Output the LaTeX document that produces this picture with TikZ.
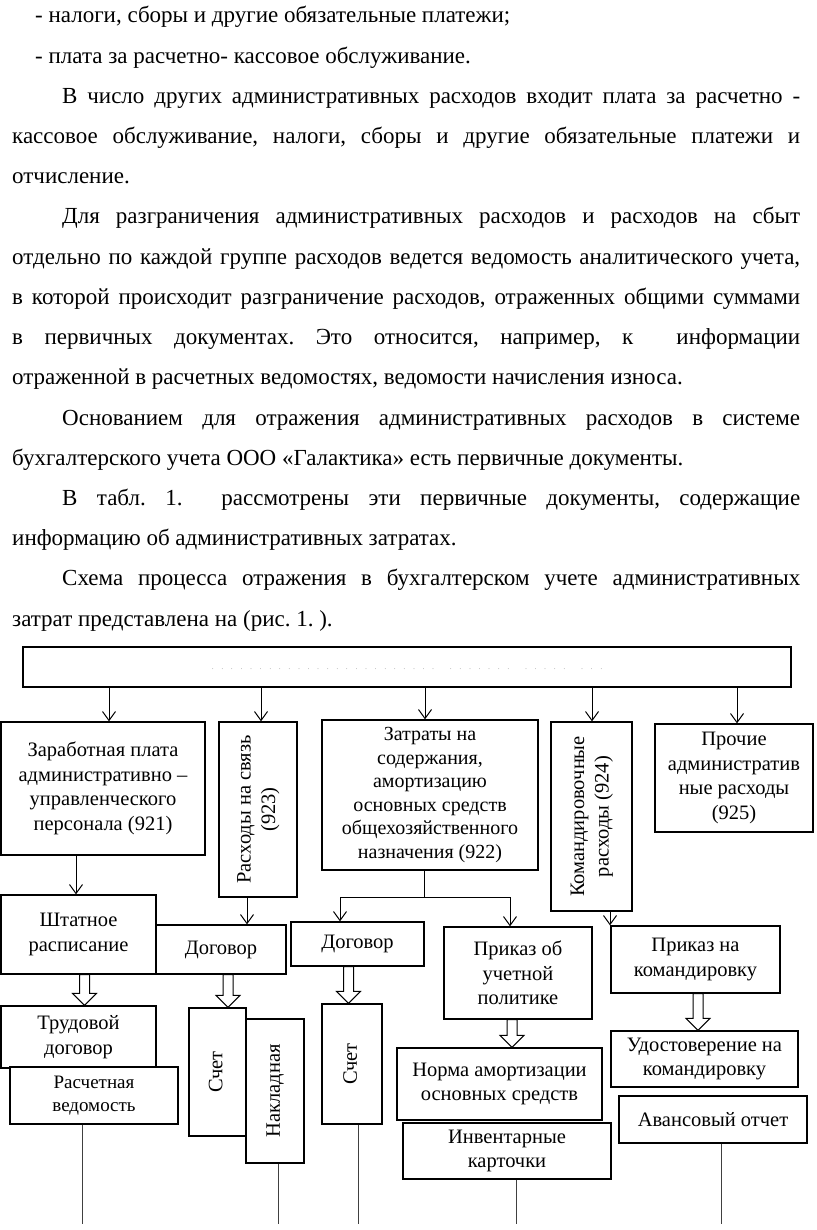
\documentclass[tikz,border=0pt]{standalone}
\usepackage{fontspec}
\setmainfont{Liberation Serif}
\usepackage{graphicx}
\usepackage{tikz}
\usetikzlibrary{arrows.meta,calc}
\frenchspacing

\newcommand{\fatarrow}[3]{%
  \draw[fat] let \p1=(#1), \p2=(#2) in
    (\x1+#3-5pt,\y1) -- (\x1+#3+5pt,\y1) -- (\x1+#3+5pt,\y2+12pt)
    -- (\x1+#3+12pt,\y2+12pt) -- (\x1+#3,\y2) -- (\x1+#3-12pt,\y2+12pt)
    -- (\x1+#3-5pt,\y2+12pt) -- cycle;}
\newcommand{\vtext}[1]{\rotatebox{90}{\begin{tabular}{@{}c@{}}#1\end{tabular}}}

\tikzset{
  box/.style={draw, line width=1.3pt, fill=white, inner sep=0pt, align=center,
    font=\fontsize{20.5}{24.5}\selectfont},
  txt/.style={anchor=base west, inner sep=0pt, font=\fontsize{23}{28}\selectfont},
  arr/.style={-{Straight Barb[length=9pt,width=13pt]}, line width=1pt},
  fat/.style={draw, line width=1pt, fill=white},
  thinline/.style={line width=0.5pt, black!75}
}

\begin{document}
\begin{tikzpicture}[x=1pt, y=-1pt]
  \useasboundingbox (0,0) rectangle (816,1230);

  \node[txt] (t1) at (35,23) {- налоги, сборы и другие обязательные платежи;};
  \node[txt] (t2) at (35,63.2) {- плата за расчетно- кассовое обслуживание.};
  \node[txt] (t3) at (62,103.4) {\makebox[738pt][s]{В число других административных расходов входит плата за расчетно -}};
  \node[txt] (t4) at (12,143.6) {\makebox[788pt][s]{кассовое обслуживание, налоги, сборы и другие обязательные платежи и}};
  \node[txt] (t5) at (12,183.8) {отчисление.};
  \node[txt] (t6) at (62,224) {\makebox[738pt][s]{Для разграничения административных расходов и расходов на сбыт}};
  \node[txt] (t7) at (12,264.2) {\makebox[788pt][s]{отдельно по каждой группе расходов ведется ведомость аналитического учета,}};
  \node[txt] (t8) at (12,304.4) {\makebox[788pt][s]{в которой происходит разграничение расходов, отраженных общими суммами}};
  \node[txt] (t9) at (12,344.6) {\makebox[788pt][s]{в первичных документах. Это относится, например, к \ информации}};
  \node[txt] (t10) at (12,384.8) {отраженной в расчетных ведомостях, ведомости начисления износа.};
  \node[txt] (t11) at (62,425) {\makebox[738pt][s]{Основанием для отражения административных расходов в системе}};
  \node[txt] (t12) at (12,465.2) {бухгалтерского учета ООО «Галактика» есть первичные документы.};
  \node[txt] (t13) at (62,505.4) {\makebox[738pt][s]{В табл. 1. \ рассмотрены эти первичные документы, содержащие}};
  \node[txt] (t14) at (12,545.6) {информацию об административных затратах.};
  \node[txt] (t15) at (62,585.8) {\makebox[738pt][s]{Схема процесса отражения в бухгалтерском учете административных}};
  \node[txt] (t16) at (12,626) {затрат представлена на (рис. 1. ).};

  % scheme
  \node[box, minimum width=768, minimum height=40] (top) at (407,667)
    {\raisebox{-6pt}{\fontsize{6}{6}\selectfont\color{black!60}\makebox[390pt][s]{. . . . . . . . . . . . . . . . . . . . . . . . \ . . . . . . . \ . . . . . \ . . .}}};

  \node[box, minimum width=204, minimum height=133] (zp) at (103,788.5)
    {Заработная плата\\административно –\\управленческого\\персонала (921)};
  \node[box, minimum width=78, minimum height=175] (sv) at (258,809.5)
    {\vtext{Расходы на связь\\(923)}};
  \node[box, minimum width=216, minimum height=150, font=\fontsize{20}{23.5}\selectfont] (zt) at (430,795)
    {Затраты на\\содержания,\\амортизацию\\основных средств\\общехозяйственного\\назначения (922)};
  \node[box, minimum width=81, minimum height=189] (km) at (591.5,816.5)
    {\vtext{Командировочные\\расходы (924)}};
  \node[box, minimum width=158, minimum height=108] (pr) at (734,778)
    {Прочие\\административ\\ные расходы\\(925)};

  \foreach \x/\n in {109/zp, 261/sv, 425/zt, 592/km, 737/pr}
    \draw[arr] (\x,0 |- top.south) -- (\x,0 |- \n.north);

  \node[box, minimum width=155, minimum height=79] (sht) at (78.5,934.5) {Штатное\\расписание};
  \node[box, minimum width=130, minimum height=49] (dg1) at (221,949.5) {Договор};
  \node[box, minimum width=133, minimum height=44] (dg2) at (357.5,944) {Договор};
  \node[box, minimum width=148, minimum height=92] (pup) at (518,973) {Приказ об\\учетной\\политике};
  \node[box, minimum width=169, minimum height=67] (pnk) at (695.5,959.5) {Приказ на\\командировку};

  \draw[arr] (76,0 |- zp.south) -- (76,0 |- sht.north);
  \draw[arr] (247,0 |- sv.south) -- (247,0 |- dg1.north);
  \coordinate (sl) at (340,897);
  \coordinate (sr) at (510,897);
  \draw[line width=1pt] (424,0 |- zt.south) -- (424,0 |- sl);
  \draw[line width=1pt] (sl) -- (sr);
  \draw[arr] (sl) -- (sl |- dg2.north);
  \draw[arr] (sr) -- (sr |- pup.north);
  \draw[arr] (610,0 |- km.south) -- (610,0 |- pnk.north);

  \node[box, minimum width=155, minimum height=62] (trd) at (78.5,1037) {Трудовой\\договор};
  \node[box, minimum width=168, minimum height=57, font=\fontsize{19}{23}\selectfont] (rv) at (94,1095.5) {Расчетная\\ведомость};
  \node[box, minimum width=57, minimum height=128] (sc1) at (217.5,1072) {\vtext{Счет}};
  \node[box, minimum width=58, minimum height=144] (nak) at (275,1091) {\vtext{Накладная}};
  \node[box, minimum width=60, minimum height=120] (sc2) at (352,1064) {\vtext{Счет}};
  \node[box, minimum width=205, minimum height=72] (nrm) at (499.5,1084) {Норма амортизации\\основных средств};
  \node[box, minimum width=208, minimum height=56] (inv) at (507,1151) {Инвентарные\\карточки};
  \node[box, minimum width=187, minimum height=56] (udo) at (704.5,1059) {Удостоверение на\\командировку};
  \node[box, minimum width=188, minimum height=47] (avo) at (713,1119.5) {Авансовый отчет};

  \fatarrow{sht.south}{trd.north}{6pt}
  \fatarrow{dg1.south}{sc1.north}{7pt}
  \fatarrow{dg2.south}{sc2.north}{-9pt}
  \fatarrow{pup.south}{nrm.north}{-6pt}
  \fatarrow{pnk.south}{udo.north}{2.5pt}

  \foreach \x/\n/\e in {82/rv/e1, 278/nak/e2, 358/sc2/e3, 516/inv/e4, 721/avo/e5} {
    \coordinate (\e) at (\x,1224);
    \draw[thinline] (\x,0 |- \n.south) -- (\e);
  }
\end{tikzpicture}
\end{document}
